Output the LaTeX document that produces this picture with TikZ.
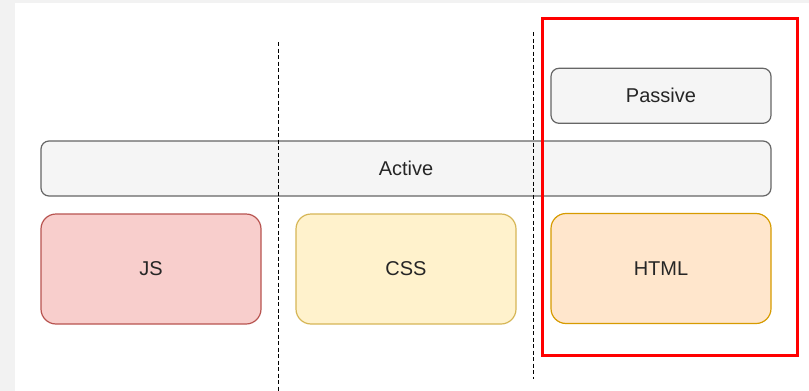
\documentclass[tikz,border=0pt]{standalone}
\usepackage{fontspec}
\setmainfont{Liberation Sans}
\begin{document}
\begin{tikzpicture}[x=1pt,y=-1pt,
  lbl/.style={font=\fontsize{20}{24}\selectfont, text=black!85},
  graybox/.style={lbl, draw=black!60, fill=black!4, line width=1.2pt, rounded corners=8pt, minimum width=220pt, minimum height=55pt, inner sep=0pt},
  colbox/.style={lbl, line width=1.2pt, rounded corners=15pt, minimum width=220pt, minimum height=110pt, inner sep=0pt},
  divider/.style={draw=black, line width=1.8pt, dash pattern=on 4pt off 2.5pt},
  highlight/.style={draw=red, line width=3.5pt}]
\definecolor{jsfill}{HTML}{F8CECC}\definecolor{jsline}{HTML}{B85450}
\definecolor{cssfill}{HTML}{FFF2CC}\definecolor{cssline}{HTML}{D6B656}
\definecolor{htmlfill}{HTML}{FFE6CC}\definecolor{htmlline}{HTML}{D79B00}
\definecolor{bggray}{HTML}{F2F2F2}
\useasboundingbox (0,0) rectangle (809,391);
\fill[bggray] (0,0) rectangle (809,391);
\fill[white] (15,3) rectangle (809,391);
% dividers
\coordinate (d1top) at (278.5,42);
\coordinate (d1bot) at (278.5,391);
\coordinate (d2top) at (533.5,32);
\coordinate (d2bot) at (533.5,379);
% boxes
\node[graybox] (passive) at (661,95.8) {Passive};
\node[graybox, minimum width=730pt] (active) at (406,168.5) {Active};
\node[colbox, draw=jsline, fill=jsfill] (js) at (151,269) {JS};
\node[colbox, draw=cssline, fill=cssfill] (css) at (406,269) {CSS};
\node[colbox, draw=htmlline, fill=htmlfill] (html) at (661,268.5) {HTML};
\draw[divider] (d1top) -- (d1bot);
\draw[divider] (d2top) -- (d2bot);
% highlight frame
\coordinate (hl1) at (542.5,18.3);
\coordinate (hl2) at (797.7,355.3);
\draw[highlight] (hl1) rectangle (hl2);
\end{tikzpicture}
\end{document}
